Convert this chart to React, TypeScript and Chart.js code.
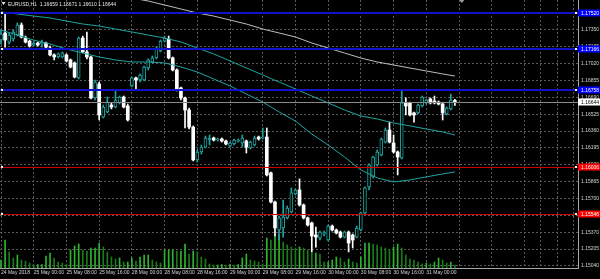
import React, { useEffect, useRef } from 'react';
import { Chart, registerables } from 'chart.js';

Chart.register(...registerables);

// ---------- data ----------
const symbolTitle = 'EURUSD,H1';

const opens = [
  1.17251, 1.1732, 1.17231, 1.17261, 1.173, 1.17398, 1.17271, 1.17241, 1.17202, 1.17222,
  1.17212, 1.17222, 1.17173, 1.17105, 1.17085, 1.17085, 1.17105, 1.17056, 1.17027, 1.1688,
  1.17271, 1.17134, 1.17085, 1.16684, 1.16821, 1.16497, 1.16546, 1.16615, 1.16595, 1.16635,
  1.16693, 1.16605, 1.16801, 1.1688, 1.1686, 1.1686, 1.16978, 1.17036, 1.17076, 1.17144,
  1.17241, 1.17261, 1.17076, 1.16958, 1.16782, 1.16684, 1.16566, 1.16399, 1.16077, 1.16155,
  1.16203, 1.16272, 1.16292, 1.16272, 1.16282, 1.16262, 1.16213, 1.16233, 1.16262, 1.16243,
  1.16262, 1.16194, 1.16223, 1.16301, 1.16292, 1.16301, 1.1595, 1.15665, 1.15391, 1.15411,
  1.15509, 1.15567, 1.15744, 1.15783, 1.15636, 1.15509, 1.1546, 1.15342, 1.15313, 1.15352,
  1.15293, 1.1543, 1.15391, 1.15371, 1.15322, 1.15371, 1.15342, 1.15322, 1.15391, 1.15558,
  1.15813, 1.1591, 1.16028, 1.16126, 1.16252, 1.1637, 1.16243, 1.16155, 1.16096, 1.16635,
  1.16635, 1.16537, 1.16537, 1.16605, 1.16635, 1.16674, 1.16654, 1.16644, 1.16625, 1.16527,
  1.16576, 1.16659,
];
const highs = [
  1.17349, 1.17516, 1.1732, 1.17349, 1.17418, 1.17418, 1.1729, 1.17251, 1.17241, 1.17231,
  1.17251, 1.17231, 1.17192, 1.17115, 1.17125, 1.17134, 1.17115, 1.17066, 1.17036, 1.1728,
  1.1729, 1.17329, 1.17095, 1.1686, 1.1684, 1.16615, 1.16693, 1.16635, 1.16762, 1.16703,
  1.16703, 1.16625, 1.16889, 1.16889, 1.16919, 1.16997, 1.17066, 1.17095, 1.17182, 1.17251,
  1.1729, 1.1729, 1.17085, 1.16968, 1.16791, 1.16693, 1.16586, 1.16409, 1.16175, 1.16223,
  1.16311, 1.16321, 1.16301, 1.16292, 1.16292, 1.16272, 1.16252, 1.16282, 1.16282, 1.16321,
  1.16272, 1.16262, 1.16311, 1.16311, 1.1639, 1.1639, 1.15959, 1.15675, 1.15528, 1.15685,
  1.15626, 1.15803, 1.15793, 1.15891, 1.15646, 1.15518, 1.15469, 1.1542, 1.15381, 1.15381,
  1.1544, 1.1544, 1.15401, 1.15381, 1.15381, 1.15381, 1.15352, 1.1543, 1.15567, 1.15813,
  1.16038, 1.16116, 1.16175, 1.16292, 1.1639, 1.16448, 1.16321, 1.16165, 1.16762, 1.16684,
  1.16644, 1.16546, 1.16625, 1.16703, 1.16674, 1.16684, 1.16703, 1.16654, 1.16635, 1.16595,
  1.16723, 1.16671,
];
const lows = [
  1.17212, 1.17182, 1.17212, 1.17241, 1.1729, 1.17271, 1.17222, 1.17182, 1.17192, 1.17192,
  1.17182, 1.17163, 1.17095, 1.17056, 1.17076, 1.17076, 1.17036, 1.16978, 1.1688, 1.1687,
  1.17125, 1.17066, 1.16674, 1.16664, 1.16468, 1.16488, 1.16537, 1.16576, 1.16586, 1.16625,
  1.16586, 1.16458, 1.16791, 1.16762, 1.1684, 1.1685, 1.16958, 1.17027, 1.17066, 1.17134,
  1.17231, 1.17066, 1.16948, 1.16752, 1.16664, 1.1639, 1.1638, 1.16067, 1.16057, 1.16135,
  1.16194, 1.16223, 1.16262, 1.16262, 1.16252, 1.16223, 1.16203, 1.16223, 1.16252, 1.16203,
  1.16145, 1.16184, 1.16213, 1.16272, 1.16282, 1.1592, 1.15656, 1.15332, 1.15293, 1.15322,
  1.15499, 1.15558, 1.15734, 1.15626, 1.15499, 1.1543, 1.15176, 1.15224, 1.15293, 1.15332,
  1.15283, 1.15381, 1.15352, 1.15313, 1.15313, 1.15176, 1.15215, 1.15313, 1.15381, 1.15548,
  1.15783, 1.15901, 1.16018, 1.16116, 1.16243, 1.16243, 1.16145, 1.1593, 1.16086, 1.16517,
  1.16507, 1.16448, 1.16527, 1.16595, 1.16625, 1.16625, 1.16625, 1.16615, 1.16468, 1.16517,
  1.16566, 1.1661,
];
const closes = [
  1.1731, 1.17251, 1.173, 1.17329, 1.17398, 1.1728, 1.17231, 1.17192, 1.17222, 1.17202,
  1.17231, 1.17182, 1.17105, 1.17085, 1.17115, 1.17125, 1.17046, 1.16987, 1.16889, 1.17271,
  1.17134, 1.17085, 1.16684, 1.1684, 1.16517, 1.16595, 1.16644, 1.16595, 1.16664, 1.16693,
  1.16595, 1.16468, 1.1688, 1.1686, 1.16909, 1.16987, 1.17056, 1.17076, 1.17173, 1.17241,
  1.17271, 1.17076, 1.16958, 1.16762, 1.16684, 1.16566, 1.16399, 1.16077, 1.16155, 1.16203,
  1.16292, 1.16292, 1.16272, 1.16282, 1.16262, 1.16233, 1.16243, 1.16272, 1.16272, 1.16292,
  1.16203, 1.16252, 1.16292, 1.16282, 1.16301, 1.1593, 1.15665, 1.15411, 1.15509, 1.15518,
  1.15606, 1.15754, 1.15783, 1.15636, 1.15509, 1.1544, 1.15332, 1.15322, 1.15371, 1.15362,
  1.1543, 1.15391, 1.15362, 1.15322, 1.15371, 1.15264, 1.15293, 1.15411, 1.15558, 1.15803,
  1.16028, 1.16106, 1.16155, 1.16282, 1.1637, 1.16252, 1.16155, 1.16106, 1.16635, 1.16605,
  1.16517, 1.16517, 1.16615, 1.16693, 1.16664, 1.16635, 1.16635, 1.16625, 1.16537, 1.16586,
  1.16664, 1.16644,
];
const volumes = [
  1600, 5600, 3200, 2000, 2600, 1600, 1400, 1000, 600, 700,
  700, 2400, 3000, 2000, 1200, 1000, 800, 3600, 4400, 4800,
  3600, 3400, 4000, 4000, 5000, 4200, 3200, 2200, 1800, 2000,
  1200, 1200, 2000, 1400, 2200, 2600, 2600, 1600, 1200, 1000,
  3600, 3600, 3600, 3400, 3400, 4800, 2800, 3400, 3200, 2200,
  1800, 800, 600, 600, 700, 600, 700, 600, 700, 2000,
  2800, 1600, 1400, 1200, 800, 6000, 5600, 6600, 6600, 5200,
  4600, 4200, 4000, 4200, 4000, 3600, 3000, 3000, 2800, 1200,
  1200, 1600, 2200, 2000, 1200, 1800, 1200, 1000, 2200, 5000,
  5000, 4800, 4600, 4200, 4000, 3600, 4200, 4800, 4000, 2600,
  1800, 1600, 1200, 800, 1000, 800, 1200, 2000, 1600, 1000,
  1200, 600,
];
const volumeMax = 53600;

const maIndex = [0, 4, 8, 12, 16, 20, 24, 28, 32, 36, 40, 44, 48, 52, 56, 60, 64, 68, 72, 76, 80, 84, 88, 92, 96, 100, 104, 108, 111];
const maFast = [
  1.17349, 1.173, 1.17251, 1.17212, 1.17163, 1.17124, 1.17085, 1.17056, 1.17036, 1.17036,
  1.17027, 1.16987, 1.16938, 1.1687, 1.16801, 1.16723, 1.16644, 1.16547, 1.16458, 1.16331,
  1.16223, 1.16106, 1.15979, 1.15901, 1.15862, 1.15881, 1.15911, 1.1594, 1.1596,
];
const maSlow = [
  1.17526, 1.17506, 1.17486, 1.17467, 1.17437, 1.17408, 1.17388, 1.17359, 1.1733, 1.173,
  1.17271, 1.17232, 1.17173, 1.17115, 1.17046, 1.16978, 1.16909, 1.1684, 1.16772, 1.16703,
  1.16635, 1.16566, 1.16508, 1.16478, 1.16439, 1.1641, 1.1638, 1.16351, 1.16321,
];
const maLongIndex = [32, 36, 40, 44, 48, 52, 56, 60, 64, 68, 72, 76, 80, 84, 88, 92, 96, 100, 104, 108, 111];
const maLong = [
  1.17663, 1.17633, 1.17594, 1.17555, 1.17516, 1.17486, 1.17447, 1.17408, 1.17359, 1.1732,
  1.17281, 1.17222, 1.17173, 1.17124, 1.17075, 1.17036, 1.17007, 1.16977, 1.16948, 1.16919,
  1.16899,
];

const blueLevels = [1.1752, 1.17166, 1.16758];
const redLevels = [1.16006, 1.15546];

const priceTicks = [
  1.1504, 1.15205, 1.1537, 1.15535, 1.157, 1.15865, 1.1603, 1.16195, 1.1636, 1.16525,
  1.1669, 1.16855, 1.1702, 1.17185, 1.1735,
];
const priceMin = 1.15019;
const priceMax = 1.17643;

const timeTickBars = [0, 8, 16, 24, 32, 40, 48, 56, 64, 72, 80, 88, 96, 104];
const timeTickLabels = [
  '24 May 2018', '25 May 00:00', '25 May 08:00', '25 May 16:00', '28 May 00:00',
  '28 May 08:00', '28 May 16:00', '29 May 00:00', '29 May 08:00', '29 May 16:00',
  '30 May 00:00', '30 May 08:00', '30 May 16:00', '31 May 00:00',
];
const futureGridBars = [112, 120, 128, 132, 136, 140];
const barMin = -0.245;
const barMax = 141.1;

// ---------- styles ----------
const TEAL = '#1fa5a0';
const GRID = '#5a5a5a';
const AXIS = '#a8a8a8';
const TXT = '#d4d4d4';
const BLUE_LINE = '#1212cc';
const BLUE_BOX = '#0000ff';
const RED_LINE = '#d00000';
const RED_BOX = '#ff0000';
const BID = '#8a8a8a';
const FONT = "'Liberation Sans', Arial, sans-serif";
const fontPx = 5;

const overlayPlugin = {
  id: 'mtOverlay',
  afterDatasetsDraw(chart: any) {
    const { ctx, chartArea: a, scales } = chart;
    const ys = scales.y;
    const last = closes.length - 1;
    ctx.save();
    ctx.beginPath();
    ctx.rect(a.left, a.top, a.right - a.left, a.bottom - a.top);
    ctx.clip();
    // bid line
    const yBid = Math.round(ys.getPixelForValue(closes[last])) + 0.5;
    ctx.strokeStyle = BID;
    ctx.lineWidth = 1;
    ctx.beginPath();
    ctx.moveTo(a.left, yBid);
    ctx.lineTo(a.right, yBid);
    ctx.stroke();
    // red levels
    for (const v of redLevels) {
      const yy = Math.round(ys.getPixelForValue(v)) + 0.5;
      ctx.strokeStyle = RED_LINE;
      ctx.lineWidth = 1;
      ctx.beginPath();
      ctx.moveTo(a.left, yy);
      ctx.lineTo(a.right, yy);
      ctx.stroke();
    }
    // blue levels
    for (const v of blueLevels) {
      const yy = Math.round(ys.getPixelForValue(v));
      ctx.strokeStyle = BLUE_LINE;
      ctx.lineWidth = 2;
      ctx.beginPath();
      ctx.moveTo(a.left, yy);
      ctx.lineTo(a.right, yy);
      ctx.stroke();
    }
    // end markers
    ctx.fillStyle = '#ffffff';
    for (const v of [...blueLevels, ...redLevels]) {
      const yy = Math.round(ys.getPixelForValue(v));
      ctx.fillRect(a.left + 1, yy - 1, 2, 2);
      ctx.fillRect(a.right - 3, yy - 1, 2, 2);
    }
    ctx.restore();
  },
  afterDraw(chart: any) {
    const { ctx, chartArea: a, scales } = chart;
    const ys = scales.y;
    const xs = scales.x;
    const last = closes.length - 1;
    const W = chart.width;
    ctx.save();
    ctx.font = `${fontPx}px ${FONT}`;
    ctx.textBaseline = 'middle';
    ctx.textAlign = 'left';
    const box = (v: number, fill: string, txt: string) => {
      const yy = Math.round(ys.getPixelForValue(v));
      ctx.fillStyle = fill;
      ctx.fillRect(a.right, yy - 3.5, W - a.right, 7);
      ctx.fillStyle = txt;
      ctx.fillText(v.toFixed(5), a.right + 3, yy + 0.5);
    };
    for (const v of blueLevels) box(v, BLUE_BOX, '#ffffff');
    for (const v of redLevels) box(v, RED_BOX, '#ffffff');
    box(closes[last], '#ffffff', '#000000');

    // title
    ctx.fillStyle = '#e6e6e6';
    ctx.beginPath();
    ctx.moveTo(1.5, 2);
    ctx.lineTo(5.5, 2);
    ctx.lineTo(3.5, 5);
    ctx.closePath();
    ctx.fill();
    const t = `${symbolTitle}  ${opens[last].toFixed(5)} ${highs[last].toFixed(5)} ${lows[last].toFixed(5)} ${closes[last].toFixed(5)}`;
    ctx.fillText(t, 8, 4.5);

    // chart shift marker
    const sx = xs.getPixelForValue(last + 1.7);
    ctx.fillStyle = '#9a9a9a';
    ctx.beginPath();
    ctx.moveTo(sx - 2.5, a.top);
    ctx.lineTo(sx + 2.5, a.top);
    ctx.lineTo(sx, a.top + 3);
    ctx.closePath();
    ctx.fill();
    ctx.restore();
  },
};

export default function App() {
  const ref = useRef<HTMLCanvasElement | null>(null);

  useEffect(() => {
    document.body.style.margin = '0';
    document.body.style.background = '#000';
    const canvas = ref.current;
    if (!canvas) return;

    const bull = closes.map((c, i) => c >= opens[i]);
    const volUp = volumes.map((v, i) => i === 0 || v >= volumes[i - 1]);

    const chart = new Chart(canvas, {
      type: 'bar',
      data: {
        datasets: [
          {
            type: 'line',
            label: 'MA long',
            data: maLongIndex.map((x, k) => ({ x, y: maLong[k] })),
            borderColor: '#bdbdbd',
            borderWidth: 1,
            pointRadius: 0,
            tension: 0,
            order: 0,
          } as any,
          {
            type: 'line',
            label: 'MA slow',
            data: maIndex.map((x, k) => ({ x, y: maSlow[k] })),
            borderColor: TEAL,
            borderWidth: 1,
            pointRadius: 0,
            tension: 0,
            order: 0,
          },
          {
            type: 'line',
            label: 'MA fast',
            data: maIndex.map((x, k) => ({ x, y: maFast[k] })),
            borderColor: TEAL,
            borderWidth: 1,
            pointRadius: 0,
            tension: 0,
            order: 0,
          },
          {
            type: 'bar',
            label: 'bodies',
            data: opens.map((o, i) => ({ x: i, y: [o, closes[i]] })),
            backgroundColor: bull.map((b) => (b ? '#000000' : '#ffffff')),
            borderColor: bull.map((b) => (b ? TEAL : '#ffffff')),
            borderWidth: bull.map((b) => (b ? 1 : 0)),
            borderSkipped: false,
            barThickness: 3,
            minBarLength: 1,
            grouped: false,
            order: 1,
          },
          {
            type: 'bar',
            label: 'wicks',
            data: lows.map((l, i) => ({ x: i, y: [l, highs[i]] })),
            backgroundColor: bull.map((b) => (b ? TEAL : '#ffffff')),
            borderWidth: 0,
            barThickness: 1,
            grouped: false,
            order: 2,
          },
          {
            type: 'bar',
            label: 'volume',
            yAxisID: 'yVol',
            data: volumes.map((v, i) => ({ x: i, y: v })),
            backgroundColor: volUp.map((u) => (u ? '#2db52d' : '#1c7a1c')),
            borderWidth: 0,
            barThickness: 1,
            grouped: false,
            order: 3,
          },
        ] as any,
      },
      options: {
        animation: false,
        responsive: false,
        devicePixelRatio: 1,
        events: [],
        layout: { padding: 0, autoPadding: false } as any,
        plugins: {
          legend: { display: false },
          tooltip: { enabled: false },
          title: { display: false },
        },
        scales: {
          x: {
            type: 'linear',
            min: barMin,
            max: barMax,
            offset: false,
            bounds: 'data',
            grid: { color: GRID, lineWidth: 1, drawTicks: false, offset: false },
            border: { display: true, color: AXIS, dash: [2, 2] },
            ticks: {
              autoSkip: false,
              maxRotation: 0,
              minRotation: 0,
              align: 'start',
              padding: 2,
              color: TXT,
              font: { family: FONT, size: fontPx },
              callback: (v: any) => {
                const k = timeTickBars.indexOf(Number(v));
                return k >= 0 ? timeTickLabels[k] : '';
              },
            },
            afterBuildTicks: (s: any) => {
              s.ticks = [...timeTickBars, ...futureGridBars].map((v) => ({ value: v }));
            },
            afterFit: (s: any) => {
              s.height = 11;
              s.paddingLeft = 0;
              s.paddingRight = 0;
            },
          },
          y: {
            type: 'linear',
            position: 'right',
            min: priceMin,
            max: priceMax,
            bounds: 'data',
            grid: { color: GRID, lineWidth: 1, drawTicks: false },
            border: { display: true, color: AXIS, dash: [2, 2] },
            ticks: {
              autoSkip: false,
              padding: 3,
              color: TXT,
              font: { family: FONT, size: fontPx },
              callback: (v: any) => Number(v).toFixed(5),
            },
            afterBuildTicks: (s: any) => {
              s.ticks = priceTicks.map((v) => ({ value: v }));
            },
            afterFit: (s: any) => {
              s.width = 22;
              s.paddingTop = 0;
              s.paddingBottom = 0;
            },
          },
          yVol: {
            type: 'linear',
            display: false,
            position: 'left',
            min: 0,
            max: volumeMax,
          },
        } as any,
      },
      plugins: [overlayPlugin],
    } as any);

    return () => chart.destroy();
  }, []);

  return (
    <div style={{ position: 'absolute', left: 0, top: 0, width: 600, height: 279, background: '#000' }}>
      <canvas ref={ref} width={600} height={279} style={{ display: 'block', width: 600, height: 279 }} />
    </div>
  );
}
